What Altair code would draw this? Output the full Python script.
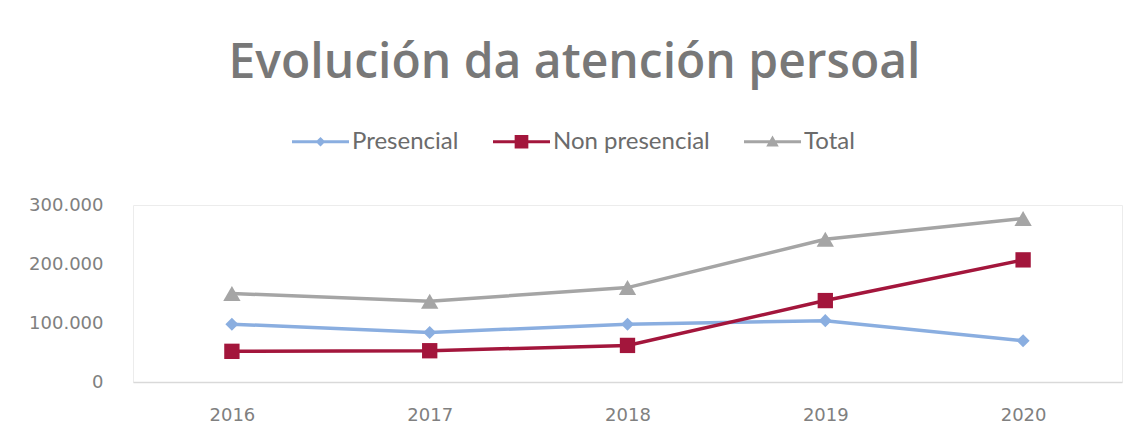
import altair as alt
import pandas as pd

years = ["2016", "2017", "2018", "2019", "2020"]
presencial = [98000, 84000, 98000, 104000, 70000]
non_presencial = [52000, 53000, 62000, 138000, 207000]
total = [150000, 137000, 160000, 242000, 277000]

series = ["Presencial", "Non presencial", "Total"]
colors = ["#8aaee0", "#a3163c", "#a5a5a5"]
shapes = ["diamond", "square", "triangle-up"]
legend_shapes = [
    "M-1,-0.055H1V0.055H-1Z M0,-0.17L0.17,0L0,0.17L-0.17,0Z",
    "M-1,-0.055H1V0.055H-1Z M-0.24,-0.24H0.24V0.24H-0.24Z",
    "M-1,-0.055H1V0.055H-1Z M0,-0.22L0.22,0.17L-0.22,0.17Z",
]

rows = []
for name, vals in zip(series, [presencial, non_presencial, total]):
    for y, v in zip(years, vals):
        rows.append({"year": y, "value": v, "serie": name})
df = pd.DataFrame(rows)

x = alt.X("year:O", scale=alt.Scale(type="point", padding=0.5),
          axis=alt.Axis(title=None, labelAngle=0, ticks=False, domainColor="#d9d9d9",
                        domainWidth=1.5, labelPadding=24, labelFont="DejaVu Sans",
                        labelFontSize=18, labelColor="#808080"))
y = alt.Y("value:Q", scale=alt.Scale(domain=[0, 300000], nice=False),
          axis=alt.Axis(title=None, values=[0, 100000, 200000, 300000], grid=False,
                        domain=False, ticks=False, labelPadding=30,
                        labelFont="DejaVu Sans", labelFontSize=18, labelColor="#808080",
                        labelExpr="replace(format(datum.value, ',d'), ',', '.')"))

cscale = alt.Scale(domain=series, range=colors)

lines = alt.Chart(df).mark_line(strokeWidth=3.5).encode(
    x=x, y=y,
    color=alt.Color("serie:N", scale=cscale, legend=None),
    detail="serie:N",
)

pts = alt.Chart(df).mark_point(filled=True, opacity=1).encode(
    x=x, y=y,
    color=alt.Color("serie:N", scale=cscale, legend=None),
    shape=alt.Shape("serie:N", scale=alt.Scale(domain=series, range=shapes), legend=None),
    size=alt.Size("serie:N", scale=alt.Scale(domain=series, range=[170, 300, 260]), legend=None),
)

legend_cfg = dict(title=None, orient="none", direction="horizontal",
                  legendX=159, legendY=-92, symbolSize=3249,
                  symbolStrokeWidth=0, symbolOpacity=1,
                  labelFont="Lato", labelFontSize=24,
                  labelColor="#6b6b6b", labelOffset=3,
                  columnPadding=34, labelLimit=300)

leg = alt.Chart(df).mark_point(filled=True, opacity=0).encode(
    x=x, y=y,
    color=alt.Color("serie:N", scale=cscale, legend=alt.Legend(**legend_cfg)),
    shape=alt.Shape("serie:N", scale=alt.Scale(domain=series, range=legend_shapes),
                    legend=alt.Legend(**legend_cfg)),
)

chart = alt.layer(lines, pts, leg).resolve_scale(
    shape="independent", size="independent", color="independent"
).properties(
    width=989, height=177,
    autosize=alt.AutoSizeParams(type="none"),
    padding={"left": 125, "top": 197, "right": 8, "bottom": 50},
    title=alt.TitleParams("Evolución da atención persoal", font="Open Sans",
                          fontWeight=600, fontSize=48, color="#787878",
                          anchor="middle", dx=-53, dy=47, offset=34, baseline="alphabetic"),
    background="white",
).configure_view(stroke="#ececec")

chart.save("out.html", embed_options={"renderer": "svg", "actions": False})
